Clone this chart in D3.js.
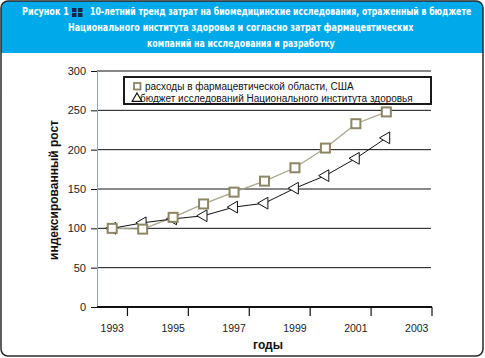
<!DOCTYPE html>
<html>
<head>
<meta charset="utf-8">
<script src="https://cdn.jsdelivr.net/npm/d3@7"></script>
<style>
  body { margin: 0; background: #fff; }
  svg { display: block; }
</style>
</head>
<body>
<div class="chart"></div>
<script>
// data
var years = [1993, 1994, 1995, 1996, 1997, 1998, 1999, 2000, 2001, 2002];
var pharma = [100, 99, 114, 131, 146, 160, 177, 202, 233, 248];
var nih = [100, 107, 112, 116, 127, 132, 151, 167, 189, 215];
var yTicks = [0, 50, 100, 150, 200, 250, 300];
var xTickLabels = [1993, 1995, 1997, 1999, 2001, 2003];
var titleLines = [
  "Рисунок  1",
  "10-летний тренд затрат на биомедицинские исследования, отраженный в бюджете",
  "Национального института здоровья и согласно затрат фармацевтических",
  "компаний на исследования и разработку"
];
var legendLabels = [
  "расходы в фармацевтической области, США",
  "бюджет исследований Национального института здоровья"
];

const width = 485, height = 358;
const bodyFont = "'Liberation Sans', Arial, sans-serif";
const titleFont = "'Liberation Sans Narrow', 'DejaVu Sans Condensed', sans-serif";

const svg = d3.select(".chart").append("svg")
    .attr("width", width)
    .attr("height", height);

// frame + blue header
svg.append("clipPath").attr("id", "frame")
  .append("rect").attr("x", 1).attr("y", 1).attr("width", 482).attr("height", 355).attr("rx", 7);

svg.append("rect")
    .attr("x", 1).attr("y", 1).attr("width", 482).attr("height", 355).attr("rx", 7)
    .attr("fill", "#fff");

svg.append("rect")
    .attr("clip-path", "url(#frame)")
    .attr("x", 0).attr("y", 0).attr("width", width).attr("height", 53)
    .attr("fill", "#00aaea");

svg.append("rect")
    .attr("x", 1).attr("y", 1).attr("width", 482).attr("height", 355).attr("rx", 7)
    .attr("fill", "none")
    .attr("stroke", "#2a2a2a")
    .attr("stroke-width", 1.5);

// title: each line squeezed horizontally to the width it has in the figure
const title = svg.append("g")
    .attr("fill", "#fff")
    .attr("font-family", titleFont)
    .attr("font-weight", "bold")
    .attr("font-size", 11);

var titlePos = [[22, 15, 47], [90, 15, 382], [68, 31, 346], [147, 47, 188]];
titleLines.forEach(function(t, i) {
  var p = titlePos[i];
  var txt = title.append("text").attr("x", 0).attr("y", 0).text(t);
  var w = txt.node().getComputedTextLength();
  txt.attr("transform", "translate(" + p[0] + "," + p[1] + ") scale(" + (p[2] / w) + ",1)");
});

// the little four-square glyph
[[0, 0], [1, 0], [0, 1], [1, 1]].forEach(function(p) {
  svg.append("rect")
      .attr("x", 72 + p[0] * 6).attr("y", 8 + p[1] * 5)
      .attr("width", 4.5).attr("height", 4)
      .attr("fill", "#14264a");
});

// scales
const x = d3.scaleLinear().domain([1992.5, 2003.5]).range([97, 432]);
const y = d3.scaleLinear().domain([0, 300]).range([307, 71]);

// gridlines
svg.append("g").selectAll("line")
  .data(yTicks.filter(d => d > 0))
  .join("line")
    .attr("x1", x(1992.5)).attr("x2", x(2003.5) - 1)
    .attr("y1", d => y(d)).attr("y2", d => y(d))
    .attr("stroke", "#111").attr("stroke-width", 1);

// y axis
const yAxis = svg.append("g")
    .attr("transform", "translate(" + x(1992.5) + ",0)")
    .call(d3.axisLeft(y).tickValues(yTicks).tickSize(6).tickPadding(5));
yAxis.select(".domain").attr("stroke", "#9aa4ad").attr("stroke-width", 1);
yAxis.selectAll(".tick line").attr("stroke", "#111");
yAxis.selectAll("text")
    .attr("font-family", bodyFont).attr("font-size", 11).attr("fill", "#222");

// x axis: thick base line, ticks between the years, labels under the years
svg.append("line")
    .attr("x1", x(1992.5)).attr("x2", x(2003.5))
    .attr("y1", y(0)).attr("y2", y(0))
    .attr("stroke", "#111").attr("stroke-width", 2.2);

svg.append("g").selectAll("line")
  .data(xTickLabels)
  .join("line")
    .attr("x1", d => x(d + 0.5)).attr("x2", d => x(d + 0.5))
    .attr("y1", y(0)).attr("y2", y(0) + 9)
    .attr("stroke", "#111").attr("stroke-width", 1.2);

svg.append("g").selectAll("text")
  .data(xTickLabels)
  .join("text")
    .attr("x", d => x(d)).attr("y", 332)
    .attr("text-anchor", "middle")
    .attr("font-family", bodyFont).attr("font-size", 10.5).attr("fill", "#222")
    .text(d => d);

// axis titles
svg.append("text")
    .attr("x", 268).attr("y", 349)
    .attr("text-anchor", "middle")
    .attr("font-family", bodyFont).attr("font-weight", "bold").attr("font-size", 12)
    .attr("fill", "#111")
    .text("годы");

svg.append("text")
    .attr("transform", "translate(58,190) rotate(-90)")
    .attr("text-anchor", "middle")
    .attr("font-family", bodyFont).attr("font-weight", "bold").attr("font-size", 12)
    .attr("fill", "#111")
    .text("индексированный рост");

// lines
const rows = years.map((d, i) => ({year: d, pharma: pharma[i], nih: nih[i]}));

svg.append("path")
    .datum(rows)
    .attr("fill", "none").attr("stroke", "#a8a68c").attr("stroke-width", 1.3)
    .attr("d", d3.line().x(d => x(d.year)).y(d => y(d.pharma)));

svg.append("path")
    .datum(rows)
    .attr("fill", "none").attr("stroke", "#111").attr("stroke-width", 1)
    .attr("d", d3.line().x(d => x(d.year)).y(d => y(d.nih)));

// markers
const tri = d3.symbol().type(d3.symbolTriangle).size(60);

svg.append("g").selectAll("path")
  .data(rows)
  .join("path")
    .attr("d", tri)
    .attr("transform", d => "translate(" + x(d.year) + "," + y(d.nih) + ") rotate(-90)")
    .attr("fill", "#fff").attr("stroke", "#111").attr("stroke-width", 1);

svg.append("g").selectAll("rect")
  .data(rows)
  .join("rect")
    .attr("x", d => x(d.year) - 4.5).attr("y", d => y(d.pharma) - 4.5)
    .attr("width", 9).attr("height", 9)
    .attr("fill", "#fff").attr("stroke", "#8c8665").attr("stroke-width", 2);

// legend
const legend = svg.append("g");
legend.append("rect")
    .attr("x", 124).attr("y", 77).attr("width", 307).attr("height", 27)
    .attr("fill", "#fff").attr("stroke", "#1a1a1a").attr("stroke-width", 2);
legend.append("rect")
    .attr("x", 134).attr("y", 83).attr("width", 6.5).attr("height", 6.5)
    .attr("fill", "#fff").attr("stroke", "#8c8665").attr("stroke-width", 1.8);
legend.append("path")
    .attr("d", d3.symbol().type(d3.symbolTriangle).size(40))
    .attr("transform", "translate(137,98.5)")
    .attr("fill", "#fff").attr("stroke", "#111").attr("stroke-width", 1.2);
legend.append("text")
    .attr("x", 145).attr("y", 90)
    .attr("font-family", bodyFont).attr("font-size", 10).attr("fill", "#111")
    .text(legendLabels[0]);
legend.append("text")
    .attr("x", 140).attr("y", 101.5)
    .attr("font-family", bodyFont).attr("font-size", 10).attr("fill", "#111")
    .text(legendLabels[1]);
</script>
</body>
</html>
